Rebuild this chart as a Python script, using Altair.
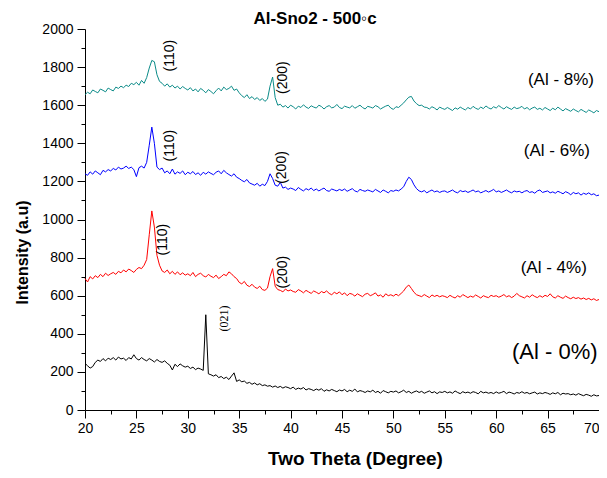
import altair as alt
import pandas as pd

theta_start = 20.0
theta_step = 0.25

al8 = [
    1655, 1668, 1660, 1680, 1672, 1665, 1685, 1678, 1670, 1690,
    1682, 1675, 1695, 1688, 1700, 1692, 1705, 1698, 1715, 1708,
    1720, 1705, 1730, 1715, 1745, 1795, 1835, 1828, 1760, 1725,
    1715, 1700, 1712, 1695, 1705, 1690, 1700, 1685, 1698, 1688,
    1680, 1692, 1675, 1685, 1670, 1688, 1678, 1665, 1682, 1672,
    1660, 1676, 1690, 1675, 1695, 1682, 1688, 1700, 1678, 1685,
    1665, 1650, 1640, 1655, 1635, 1645, 1630, 1640, 1625, 1635,
    1620, 1632, 1700, 1748, 1640, 1600, 1605, 1590, 1598, 1585,
    1600, 1592, 1580, 1595, 1588, 1602, 1590, 1583, 1597, 1590,
    1585, 1600, 1593, 1580, 1592, 1598, 1586, 1590, 1604, 1588,
    1582, 1595, 1590, 1586, 1598, 1584, 1592, 1600, 1588, 1580,
    1594, 1590, 1585, 1598, 1592, 1580, 1588, 1595, 1600, 1585,
    1578, 1592, 1588, 1600, 1612, 1628, 1642, 1646, 1622, 1608,
    1598, 1600, 1590, 1588, 1580, 1592, 1585, 1575, 1590, 1583,
    1578, 1588, 1580, 1572, 1586, 1579, 1590, 1582, 1575, 1588,
    1580, 1594, 1584, 1578, 1590, 1582, 1596, 1586, 1580, 1592,
    1585, 1598, 1588, 1580, 1592, 1584, 1578, 1590, 1582, 1586,
    1594, 1580, 1588, 1576, 1585, 1590, 1578, 1584, 1575, 1588,
    1580, 1572, 1584, 1576, 1590, 1580, 1570, 1582, 1575, 1568,
    1580, 1572, 1565, 1578, 1570, 1562, 1575, 1568, 1560, 1572,
    1566,
]

al6 = [
    1240, 1232, 1250, 1238, 1255, 1245, 1235, 1258, 1250, 1262,
    1255, 1268, 1260, 1275, 1265, 1270, 1280, 1268, 1275, 1262,
    1225, 1272, 1280, 1270, 1300, 1390, 1485, 1400, 1275, 1262,
    1270, 1245, 1255, 1240, 1265, 1238, 1250, 1242, 1255, 1235,
    1248, 1240, 1252, 1236, 1245, 1232, 1248, 1238, 1250, 1242,
    1235, 1248, 1255, 1240, 1258, 1245, 1236, 1228, 1240, 1222,
    1215, 1205, 1198, 1210, 1192, 1186, 1180, 1190, 1175, 1185,
    1178, 1200, 1240, 1215, 1180, 1175, 1195, 1165, 1170, 1158,
    1165, 1160, 1152, 1168, 1158, 1150, 1162, 1155, 1165, 1152,
    1160, 1150, 1158, 1165, 1152, 1148, 1160, 1155, 1150, 1158,
    1152, 1160, 1148, 1155, 1162, 1150, 1145, 1158, 1152, 1148,
    1155, 1150, 1145, 1158, 1150, 1142, 1155, 1148, 1140, 1152,
    1148, 1155, 1150, 1160, 1172, 1200, 1222, 1210, 1182, 1162,
    1150, 1145, 1152, 1140, 1148, 1155, 1145, 1150, 1142, 1148,
    1150, 1142, 1148, 1155, 1145, 1140, 1152, 1146, 1150, 1142,
    1148, 1155, 1145, 1150, 1140, 1146, 1152, 1144, 1150, 1158,
    1145, 1150, 1142, 1148, 1155, 1146, 1140, 1150, 1145, 1148,
    1140, 1148, 1152, 1142, 1146, 1138, 1150, 1155, 1142, 1146,
    1150, 1140, 1145, 1138, 1148, 1142, 1135, 1146, 1140, 1130,
    1142, 1135, 1140, 1128, 1138, 1132, 1140, 1130, 1135, 1125,
    1128,
]

al4 = [
    690, 672, 700, 688, 705, 695, 712, 700, 718, 706,
    715, 722, 712, 728, 720, 735, 725, 740, 732, 722,
    738, 748, 742, 760, 790, 920, 1045, 960, 812, 760,
    730, 722, 735, 715, 728, 712, 725, 710, 720, 708,
    715, 705, 722, 700, 712, 718, 705, 698, 712, 702,
    695, 708, 690, 700, 712, 705, 725, 715, 700, 690,
    670, 662, 675, 655, 648, 660, 645, 638, 650, 632,
    628, 640, 700, 742, 650, 632, 628, 620, 635, 625,
    630, 622, 618, 632, 625, 615, 628, 620, 612, 625,
    618, 610, 622, 615, 625, 612, 605, 618, 610, 620,
    605, 615, 600, 612, 608, 598, 610, 602, 595, 608,
    612, 600, 606, 615, 598, 604, 592, 610, 600, 605,
    598, 608, 600, 612, 625, 645, 656, 638, 618, 605,
    600, 595, 606, 598, 590, 604, 596, 602, 594, 600,
    596, 590, 602, 594, 588, 600, 592, 606, 598, 590,
    598, 592, 604, 596, 588, 600, 594, 590, 602, 596,
    600, 592, 598, 606, 594, 600, 590, 598, 612, 600,
    594, 588, 600, 592, 605, 596, 590, 600, 592, 602,
    596, 610, 594, 588, 600, 592, 586, 598, 590, 584,
    592, 585, 590, 582, 588, 580, 586, 578, 584, 575,
    580,
]

al0 = [
    245, 232, 220, 228, 250, 262, 255, 270, 258, 272,
    265, 275, 262, 278, 268, 272, 260, 275, 268, 290,
    270, 262, 275, 265, 258, 270, 262, 252, 265, 255,
    250, 258, 245, 235, 210, 240, 228, 242, 232, 225,
    230, 218, 225, 212, 220, 215, 208, 500, 190, 185,
    178, 185, 170, 176, 165, 172, 160, 178, 195, 150,
    158, 148, 152, 140, 145, 135, 142, 132, 138, 128,
    132, 125, 128, 120, 126, 118, 124, 115, 122, 118,
    112, 120, 108, 115, 110, 118, 105, 112, 108, 102,
    110, 104, 112, 98, 106, 100, 108, 102, 96, 105,
    100, 108, 96, 104, 98, 110, 95, 102, 98, 92,
    100, 95, 104, 92, 98, 88, 102, 96, 90, 98,
    94, 100, 90, 96, 104, 92, 98, 88, 95, 100,
    92, 98, 88, 94, 100, 90, 96, 86, 95, 92,
    98, 90, 95, 88, 100, 92, 86, 96, 90, 94,
    88, 96, 92, 85, 98, 90, 94, 88, 92, 86,
    95, 88, 92, 98, 86, 94, 90, 84, 92, 88,
    96, 88, 92, 85, 90, 94, 84, 90, 86, 92,
    88, 82, 90, 85, 92, 80, 88, 84, 86, 80,
    84, 78, 86, 80, 75, 82, 78, 72, 80, 74,
    76,
]

series_names = ["Al - 8%", "Al - 6%", "Al - 4%", "Al - 0%"]
series_colors = ["#0b8b88", "#0000ff", "#ff0000", "#000000"]

series_label_text = ["(Al - 8%)", "(Al - 6%)", "(Al - 4%)", "(Al - 0%)"]
series_label_theta = [66.3, 65.9, 65.6, 65.7]
series_label_y = [1732, 1360, 745, 304]
series_label_size = [17, 17, 17, 22]

peak_text = ["(110)", "(200)", "(110)", "(200)", "(110)", "(200)"]
peak_theta = [28.24, 39.3, 28.24, 39.2, 27.56, 39.3]
peak_y = [1860, 1745, 1388, 1273, 894, 724]

peak0_text = ["(021)"]
peak0_theta = [33.5]
peak0_y = [480]

x_ticks = [20 + 2.5 * k for k in range(21)]
y_ticks = [100 * k for k in range(21)]

rows = []
for name, ys in zip(series_names, [al8, al6, al4, al0]):
    for i, v in enumerate(ys):
        t = theta_start + theta_step * i
        if t <= 70.0001:
            rows.append({"theta": t, "intensity": v, "series": name})
df = pd.DataFrame(rows)

lab_df = pd.DataFrame({"theta": series_label_theta, "intensity": series_label_y,
                       "text": series_label_text, "fs": series_label_size})
peak_df = pd.DataFrame({"theta": peak_theta, "intensity": peak_y, "text": peak_text})
peak0_df = pd.DataFrame({"theta": peak0_theta, "intensity": peak0_y, "text": peak0_text})

FONT = "Liberation Sans"
x_scale = alt.Scale(domain=[20, 70], nice=False, zero=False)
y_scale = alt.Scale(domain=[0, 2000], nice=False)

x_axis = alt.Axis(
    values=x_ticks,
    labelExpr="datum.value % 5 === 0 ? datum.label : ''",
    labelAlign={"condition": {"test": "datum.value >= 70", "value": "right"}, "value": "center"},
    tickSize={"condition": {"test": "datum.value % 5 !== 0", "value": 4}, "value": 8},
    grid=False, domainColor="black", tickColor="black", labelColor="black",
    labelFont=FONT, labelFontSize=14, labelPadding=3, labelFlush=False,
    labelOverlap=False, labelAngle=0,
    title="Two Theta (Degree)", titleFont=FONT, titleFontSize=19,
    titleFontWeight="bold", titleColor="black",
    titleX=270, titleY=48, titleBaseline="middle", titleAlign="center",
)
y_axis = alt.Axis(
    values=y_ticks,
    labelExpr="datum.value % 200 === 0 ? datum.label : ''",
    tickSize={"condition": {"test": "datum.value % 200 !== 0", "value": 4}, "value": 8},
    grid=False, domainColor="black", tickColor="black", labelColor="black",
    labelFont=FONT, labelFontSize=14, labelPadding=4, labelFlush=False,
    labelOverlap=False, format="d",
    title="Intensity (a.u)", titleFont=FONT, titleFontSize=16,
    titleFontWeight="bold", titleColor="black",
    titleX=-63, titleY=223, titleAngle=270, titleBaseline="middle", titleAlign="center",
)

X = alt.X("theta:Q", scale=x_scale, axis=x_axis)
Y = alt.Y("intensity:Q", scale=y_scale, axis=y_axis)

lines = alt.Chart(df).mark_line(strokeWidth=1).encode(
    x=X, y=Y,
    color=alt.Color("series:N", scale=alt.Scale(domain=series_names, range=series_colors), legend=None),
)

labels = alt.Chart(lab_df).mark_text(font=FONT, align="center", baseline="middle", color="black").encode(
    x=X, y=Y,
    text="text:N",
    size=alt.Size("fs:Q", scale=None, legend=None),
)

peaks = alt.Chart(peak_df).mark_text(font=FONT, fontSize=14, angle=270, align="center",
                                     baseline="middle", color="black").encode(
    x=X, y=Y, text="text:N",
)

peak0 = alt.Chart(peak0_df).mark_text(font="Liberation Serif", fontSize=12, angle=270, align="center",
                                      baseline="middle", color="black").encode(
    x=X, y=Y, text="text:N",
)

chart = alt.layer(lines, labels, peaks, peak0).properties(
    width=514, height=381,
    title=alt.TitleParams("Al-Sno2 - 500◦c", font=FONT, fontSize=17, fontWeight="bold",
                          color="black", anchor="middle", frame="group", dx=-27, dy=10, offset=4),
    padding={"left": 77, "top": 21, "right": 0, "bottom": 60},
    autosize=alt.AutoSizeParams(type="none"),
    background="white",
).configure_view(stroke=None)

chart.save("out.html", embed_options={"renderer": "svg", "actions": False})
